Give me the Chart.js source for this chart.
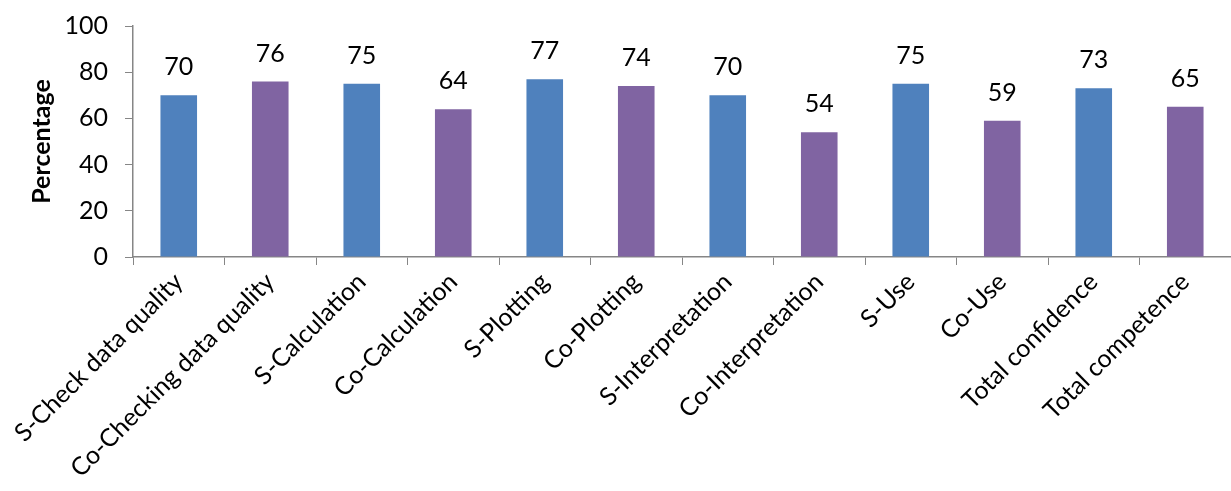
<!DOCTYPE html>
<html>
<head>
<meta charset="utf-8">
<script src="https://cdn.jsdelivr.net/npm/chart.js@4"></script>
<style>
  html, body { margin: 0; padding: 0; background: #fff; }
  #wrap { width: 1231px; height: 491px; position: relative; }
</style>
</head>
<body>
<div id="wrap"><canvas id="c" width="1231" height="491"></canvas></div>
<script>
const categories = [
  "S-Check data quality", "Co-Checking data quality", "S-Calculation", "Co-Calculation",
  "S-Plotting", "Co-Plotting", "S-Interpretation", "Co-Interpretation",
  "S-Use", "Co-Use", "Total confidence", "Total competence"
];
const percentages = [70, 76, 75, 64, 77, 74, 70, 54, 75, 59, 73, 65];
const yTicks = [0, 20, 40, 60, 80, 100];
const BLUE = "#4F81BD", PURPLE = "#8064A2";
const barColors = categories.map((c, i) => i % 2 === 0 ? BLUE : PURPLE);

const FONT = "Lato, 'Liberation Sans', sans-serif";
const FS = 25;
const AXIS = "#868686";

const valueLabels = {
  id: "valueLabels",
  afterDatasetsDraw(chart) {
    const ctx = chart.ctx;
    const meta = chart.getDatasetMeta(0);
    ctx.save();
    ctx.font = FS + "px " + FONT;
    ctx.fillStyle = "#000";
    ctx.textAlign = "center";
    ctx.textBaseline = "middle";
    meta.data.forEach((bar, i) => {
      ctx.fillText(String(percentages[i]), bar.x, bar.y - 28);
    });
    ctx.restore();
  }
};

new Chart(document.getElementById("c"), {
  type: "bar",
  data: {
    labels: categories,
    datasets: [{
      data: percentages,
      backgroundColor: barColors,
      borderWidth: 0,
      categoryPercentage: 1,
      barPercentage: 0.4
    }]
  },
  options: {
    responsive: false,
    animation: false,
    devicePixelRatio: 1,
    layout: { padding: { top: 26, right: 0, left: 0, bottom: 0 } },
    plugins: { legend: { display: false }, tooltip: { enabled: false } },
    scales: {
      x: {
        offset: true,
        grid: { display: true, drawOnChartArea: false, offset: true, color: AXIS, tickLength: 8, lineWidth: 1 },
        border: { display: true, color: AXIS, width: 1.5 },
        ticks: {
          color: "#000", font: { family: FONT, size: FS },
          minRotation: 45, maxRotation: 45, autoSkip: false, padding: 2
        },
        afterFit(scale) { scale.height = 491 - 257; scale.paddingLeft = 0; scale.paddingRight = 0; }
      },
      y: {
        min: 0, max: 100,
        afterBuildTicks(scale) { scale.ticks = yTicks.map(v => ({ value: v })); },
        grid: { display: true, drawOnChartArea: false, color: AXIS, tickLength: 8, lineWidth: 1 },
        border: { display: true, color: AXIS, width: 1.5 },
        ticks: { color: "#000", font: { family: FONT, size: FS }, padding: 17 },
        title: {
          display: true, text: "Percentage", color: "#000",
          font: { family: FONT, size: FS, weight: "bold" },
          padding: { top: 27, bottom: 0 }
        },
        afterFit(scale) { scale.width = 133; scale.paddingTop = 0; scale.paddingBottom = 0; }
      }
    }
  },
  plugins: [valueLabels]
});
</script>
</body>
</html>
